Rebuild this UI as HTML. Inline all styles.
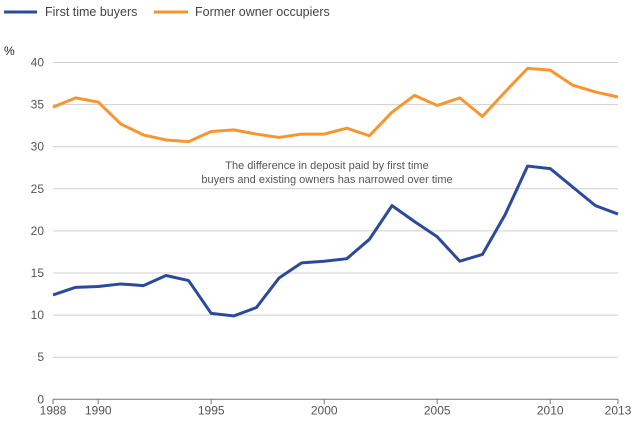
<!DOCTYPE html>
<html><head><meta charset="utf-8"><style>
body{margin:0;background:#fff;}
svg{display:block;font-family:"Liberation Sans",Arial,sans-serif;}
</style></head><body>
<svg id="chart" width="640" height="430" xmlns="http://www.w3.org/2000/svg">
<g>
<line x1="4" y1="12" x2="37" y2="12" stroke="#2b4a9b" stroke-width="3"/>
<text x="45" y="16" font-size="12.5" fill="#444">First time buyers</text>
<line x1="154" y1="12" x2="188" y2="12" stroke="#f7962e" stroke-width="3"/>
<text x="195" y="16" font-size="12.5" fill="#444">Former owner occupiers</text>
</g>
<text x="4" y="55" font-size="12" fill="#222">%</text>
<g id="grid"></g><g id="axes"></g><g id="series"></g>
<text x="327" y="169" font-size="11" fill="#555" text-anchor="middle">The difference in deposit paid by first time</text>
<text x="327" y="183" font-size="11" fill="#555" text-anchor="middle">buyers and existing owners has narrowed over time</text>
</svg>
<script>
const years=[1988,1989,1990,1991,1992,1993,1994,1995,1996,1997,1998,1999,2000,2001,2002,2003,2004,2005,2006,2007,2008,2009,2010,2011,2012,2013];
const firstTimeBuyers=[12.4,13.3,13.4,13.7,13.5,14.7,14.1,10.2,9.9,10.9,14.4,16.2,16.4,16.7,19.0,23.0,21.1,19.3,16.4,17.2,21.9,27.7,27.4,25.2,23.0,22.0];
const formerOwners=[34.7,35.8,35.3,32.7,31.4,30.8,30.6,31.8,32.0,31.5,31.1,31.5,31.5,32.2,31.3,34.1,36.1,34.9,35.8,33.6,36.5,39.3,39.1,37.3,36.5,35.9];
const yTicks=[0,5,10,15,20,25,30,35,40];
const xTicks=[1988,1990,1995,2000,2005,2010,2013];
const NS="http://www.w3.org/2000/svg";
const X0=53,X1=618,Y0=399.3,YPX=8.42;
const xs=y=>X0+(y-1988)/(2013-1988)*(X1-X0);
const ys=v=>Y0-v*YPX;
function mk(tag,attrs,parent){const e=document.createElementNS(NS,tag);for(const k in attrs)e.setAttribute(k,attrs[k]);parent.appendChild(e);return e;}
const grid=document.getElementById('grid'),axes=document.getElementById('axes'),series=document.getElementById('series');
yTicks.forEach(v=>{
  if(v>0){const l=mk('line',{x1:X0,x2:X1,y1:ys(v),y2:ys(v),stroke:'#cfcfcf','stroke-width':1},grid);
  
  }
  const t=mk('text',{x:44,y:ys(v)+4,'font-size':12,fill:'#555','text-anchor':'end'},axes);t.textContent=v;
  
  
});
const ax=mk('line',{x1:X0,x2:X1,y1:Y0,y2:Y0,stroke:'#777','stroke-width':1},axes);


xTicks.forEach(y=>{
  const tk=mk('line',{x1:xs(y),x2:xs(y),y1:Y0,y2:Y0+5,stroke:'#777'},axes);
  
  
  const t=mk('text',{x:xs(y),y:Y0+15,'font-size':12,fill:'#555','text-anchor':'middle'},axes);t.textContent=y;
  
  
});
function line(vals,color,name){
  const p=mk('polyline',{points:vals.map((v,i)=>xs(years[i])+','+ys(v)).join(' '),fill:'none',stroke:color,'stroke-width':3,'stroke-linejoin':'round'},series);
  
  
}
line(formerOwners,'#f7962e','former-owner-occupiers-line');
line(firstTimeBuyers,'#2b4a9b','first-time-buyers-line');
</script>
</body></html>
